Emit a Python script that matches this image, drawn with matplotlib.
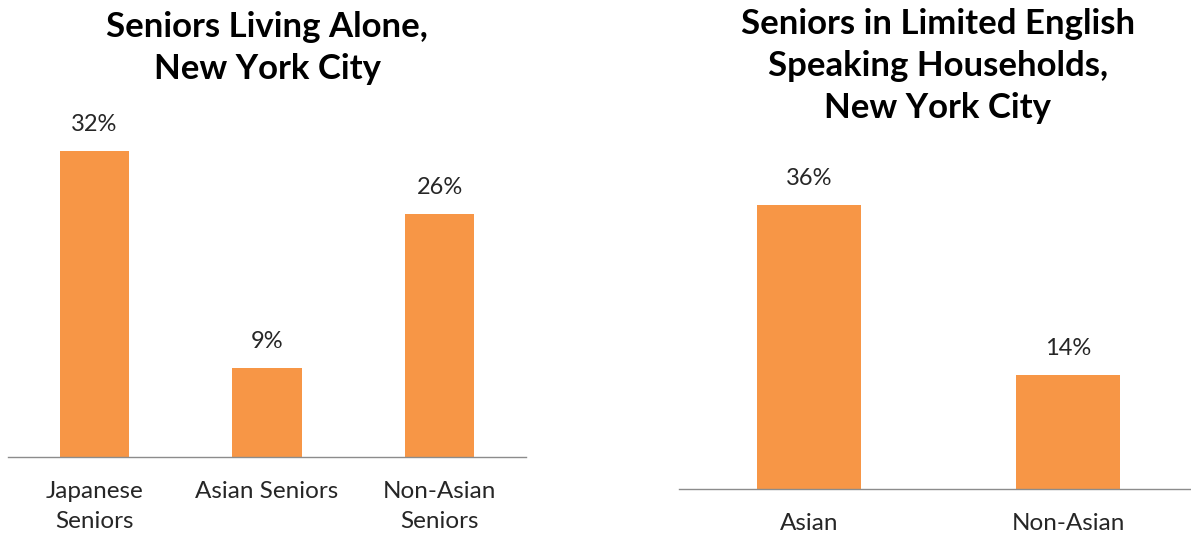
import matplotlib
matplotlib.use("Agg")
import matplotlib.pyplot as plt

plt.rcParams['font.family'] = ['Lato', 'DejaVu Sans']

# Données
cat_gauche = ["Japanese\nSeniors", "Asian Seniors", "Non-Asian\nSeniors"]
val_gauche = [32.4, 9.4, 25.7]
titre_gauche = "Seniors Living Alone,\nNew York City"

cat_droite = ["Asian", "Non-Asian"]
val_droite = [36.0, 14.4]
titre_droite = "Seniors in Limited English\nSpeaking Households,\nNew York City"

orange = "#F79646"
gris = "#8C8C8C"
texte = "#262626"

W, H = 1191, 536
fig = plt.figure(figsize=(W / 100, H / 100), dpi=100)

def axe_px(x0, x1, y_base, h):
    # position en pixels -> fraction de figure
    return fig.add_axes([x0 / W, (H - y_base) / H, (x1 - x0) / W, h / H])

def tracer(ax, cats, vals, ymax):
    x = range(len(cats))
    ax.bar(x, vals, width=0.4, color=orange)
    for i, v in zip(x, vals):
        ax.annotate(f"{v:.0f}%", (i, v), xytext=(0, 16), textcoords="offset pixels",
                    ha="center", va="bottom", fontsize=17, color=texte)
    ax.set_xlim(-0.5, len(cats) - 0.5)
    ax.set_ylim(0, ymax)
    ax.set_xticks(list(x))
    ax.set_xticklabels(cats, fontsize=17.5, color=texte, linespacing=1.5)
    ax.tick_params(axis="x", length=0, pad=17.5)
    ax.set_yticks([])
    for s in ["top", "left", "right"]:
        ax.spines[s].set_visible(False)
    ax.spines["bottom"].set_color(gris)
    ax.spines["bottom"].set_linewidth(1)

ax1 = axe_px(8, 526, 457, 40 * 9.44)
tracer(ax1, cat_gauche, val_gauche, 40)

ax2 = axe_px(679, 1198, 489, 45 * 7.89)
tracer(ax2, cat_droite, val_droite, 45)

fig.text(267 / W, 1 - 11 / H, titre_gauche, ha="center", va="top", fontsize=25,
         fontweight="bold", color="black", linespacing=1.38)
fig.text(938 / W, 1 - 8 / H, titre_droite, ha="center", va="top", fontsize=25,
         fontweight="bold", color="black", linespacing=1.38)

fig.savefig("out.png", dpi=100)
